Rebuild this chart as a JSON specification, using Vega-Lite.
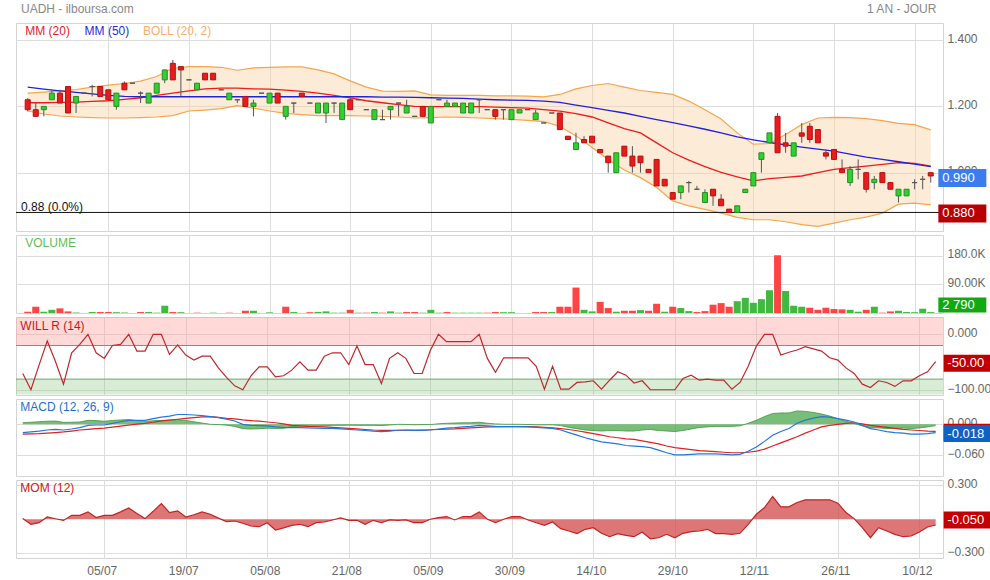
{
"$schema": "https://vega.github.io/schema/vega-lite/v6.json",
"padding": {"left": 15, "top": 2, "right": 0, "bottom": 0},
"background": "white",
"spacing": 4,
"bounds": "flush",
"config": {
 "font": "Liberation Sans",
 "view": {"stroke": "#d4d4d4"},
 "axis": {"gridColor": "#dddddd", "domain": false, "ticks": false, "labelColor": "#666666", "labelFontSize": 12, "labelFont": "Liberation Sans"},
 "axisY": {"labelOffset": -2},
 "axisX": {"labelOffset": -2.5}
},
"datasets": {
"d": [
{"i":0,"o":1.22,"h":1.225,"l":1.185,"c":1.19,"v":4000,"wr":-70,"mom":0.006,"m":-0.016,"s":-0.019,"hist":0.003},
{"i":1,"o":1.19,"h":1.21,"l":1.17,"c":1.17,"v":19700,"wr":-99,"mom":-0.044,"m":-0.0145,"s":-0.0185,"hist":0.004},
{"i":2,"o":1.19,"h":1.2,"l":1.17,"c":1.2,"v":4000,"wr":-55,"mom":-0.03,"m":-0.013,"s":-0.018,"hist":0.005},
{"i":3,"o":1.22,"h":1.25,"l":1.22,"c":1.24,"v":10000,"wr":-12,"mom":0.02,"m":-0.011,"s":-0.017,"hist":0.006},
{"i":4,"o":1.24,"h":1.25,"l":1.21,"c":1.21,"v":14500,"wr":-48,"mom":0.005,"m":-0.0097,"s":-0.016,"hist":0.0063},
{"i":5,"o":1.26,"h":1.26,"l":1.18,"c":1.18,"v":5000,"wr":-89,"mom":-0.01,"m":-0.011,"s":-0.0148,"hist":0.0038},
{"i":6,"o":1.21,"h":1.23,"l":1.18,"c":1.23,"v":1500,"wr":-33,"mom":0.035,"m":-0.009,"s":-0.013,"hist":0.004},
{"i":7,"o":1.24,"h":1.24,"l":1.24,"c":1.24,"v":0,"wr":-18,"mom":0.035,"m":-0.0065,"s":-0.011,"hist":0.0045},
{"i":8,"o":1.26,"h":1.265,"l":1.23,"c":1.26,"v":3000,"wr":0,"mom":0.065,"m":-0.002,"s":-0.0098,"hist":0.0078},
{"i":9,"o":1.26,"h":1.26,"l":1.23,"c":1.23,"v":3000,"wr":-33,"mom":0.015,"m":-0.0013,"s":-0.0085,"hist":0.0072},
{"i":10,"o":1.25,"h":1.25,"l":1.22,"c":1.22,"v":3000,"wr":-43,"mom":0.035,"m":-0.0013,"s":-0.0072,"hist":0.0059},
{"i":11,"o":1.2,"h":1.24,"l":1.19,"c":1.24,"v":2500,"wr":-20,"mom":0.035,"m":0.002,"s":-0.0055,"hist":0.0075},
{"i":12,"o":1.27,"h":1.275,"l":1.25,"c":1.25,"v":1500,"wr":-18,"mom":0.065,"m":0.005,"s":-0.0035,"hist":0.0085},
{"i":13,"o":1.27,"h":1.27,"l":1.27,"c":1.27,"v":0,"wr":0,"mom":0.1,"m":0.0077,"s":-0.0015,"hist":0.0092},
{"i":14,"o":1.24,"h":1.245,"l":1.21,"c":1.24,"v":3000,"wr":-30,"mom":0.05,"m":0.0077,"s":0.0005,"hist":0.0072},
{"i":15,"o":1.21,"h":1.24,"l":1.21,"c":1.24,"v":3000,"wr":-30,"mom":0.006,"m":0.0077,"s":0.002,"hist":0.0057},
{"i":16,"o":1.24,"h":1.27,"l":1.24,"c":1.27,"v":1000,"wr":0,"mom":0.07,"m":0.011,"s":0.004,"hist":0.007},
{"i":17,"o":1.28,"h":1.31,"l":1.27,"c":1.31,"v":22800,"wr":0,"mom":0.138,"m":0.014,"s":0.0065,"hist":0.0075},
{"i":18,"o":1.33,"h":1.34,"l":1.28,"c":1.28,"v":3000,"wr":-36,"mom":0.059,"m":0.016,"s":0.008,"hist":0.008},
{"i":19,"o":1.32,"h":1.32,"l":1.23,"c":1.31,"v":2500,"wr":-19,"mom":0.074,"m":0.019,"s":0.0098,"hist":0.0092},
{"i":20,"o":1.28,"h":1.28,"l":1.28,"c":1.28,"v":0,"wr":-37,"mom":0.02,"m":0.019,"s":0.0115,"hist":0.0075},
{"i":21,"o":1.25,"h":1.27,"l":1.25,"c":1.27,"v":1000,"wr":-46,"mom":0.04,"m":0.018,"s":0.013,"hist":0.005},
{"i":22,"o":1.3,"h":1.3,"l":1.28,"c":1.28,"v":0,"wr":-39,"mom":0.065,"m":0.017,"s":0.0145,"hist":0.0025},
{"i":23,"o":1.3,"h":1.3,"l":1.28,"c":1.28,"v":1000,"wr":-39,"mom":0.044,"m":0.015,"s":0.015,"hist":0},
{"i":24,"o":1.25,"h":1.25,"l":1.25,"c":1.25,"v":0,"wr":-60,"mom":0.01,"m":0.013,"s":0.0135,"hist":-0.0005},
{"i":25,"o":1.22,"h":1.24,"l":1.22,"c":1.24,"v":1000,"wr":-77,"mom":-0.02,"m":0.01,"s":0.0116,"hist":-0.0016},
{"i":26,"o":1.22,"h":1.22,"l":1.21,"c":1.22,"v":0,"wr":-92,"mom":-0.015,"m":0.0065,"s":0.0105,"hist":-0.004},
{"i":27,"o":1.23,"h":1.23,"l":1.2,"c":1.2,"v":7000,"wr":-99,"mom":-0.035,"m":0,"s":0.0085,"hist":-0.0085},
{"i":28,"o":1.2,"h":1.22,"l":1.17,"c":1.21,"v":7000,"wr":-74,"mom":-0.059,"m":-0.002,"s":0.0072,"hist":-0.0092},
{"i":29,"o":1.24,"h":1.24,"l":1.24,"c":1.24,"v":0,"wr":-58,"mom":-0.065,"m":-0.0025,"s":0.006,"hist":-0.0085},
{"i":30,"o":1.21,"h":1.24,"l":1.21,"c":1.24,"v":2000,"wr":-58,"mom":-0.03,"m":-0.003,"s":0.0045,"hist":-0.0075},
{"i":31,"o":1.24,"h":1.24,"l":1.21,"c":1.21,"v":0,"wr":-76,"mom":-0.094,"m":-0.005,"s":0.003,"hist":-0.008},
{"i":32,"o":1.17,"h":1.2,"l":1.16,"c":1.2,"v":19700,"wr":-74,"mom":-0.075,"m":-0.0065,"s":0.001,"hist":-0.0075},
{"i":33,"o":1.21,"h":1.21,"l":1.18,"c":1.21,"v":3000,"wr":-64,"mom":-0.053,"m":-0.0065,"s":-0.002,"hist":-0.0045},
{"i":34,"o":1.24,"h":1.24,"l":1.23,"c":1.23,"v":0,"wr":-49,"mom":-0.044,"m":-0.0065,"s":-0.003,"hist":-0.0035},
{"i":35,"o":1.21,"h":1.21,"l":1.21,"c":1.21,"v":2500,"wr":-64,"mom":-0.065,"m":-0.007,"s":-0.004,"hist":-0.003},
{"i":36,"o":1.18,"h":1.21,"l":1.18,"c":1.21,"v":3500,"wr":-64,"mom":-0.03,"m":-0.0075,"s":-0.0045,"hist":-0.003},
{"i":37,"o":1.18,"h":1.21,"l":1.15,"c":1.21,"v":5000,"wr":-39,"mom":-0.024,"m":-0.008,"s":-0.005,"hist":-0.003},
{"i":38,"o":1.21,"h":1.21,"l":1.18,"c":1.21,"v":1000,"wr":-33,"mom":-0.006,"m":-0.008,"s":-0.006,"hist":-0.002},
{"i":39,"o":1.16,"h":1.21,"l":1.16,"c":1.21,"v":1000,"wr":-33,"mom":0.012,"m":-0.009,"s":-0.007,"hist":-0.002},
{"i":40,"o":1.22,"h":1.225,"l":1.19,"c":1.19,"v":10000,"wr":-54,"mom":-0.009,"m":-0.0097,"s":-0.008,"hist":-0.0017},
{"i":41,"o":1.22,"h":1.22,"l":1.22,"c":1.22,"v":1000,"wr":-21,"mom":-0.009,"m":-0.011,"s":-0.009,"hist":-0.002},
{"i":42,"o":1.19,"h":1.19,"l":1.19,"c":1.19,"v":1000,"wr":-54,"mom":-0.044,"m":-0.012,"s":-0.01,"hist":-0.002},
{"i":43,"o":1.16,"h":1.19,"l":1.16,"c":1.19,"v":3000,"wr":-54,"mom":-0.009,"m":-0.013,"s":-0.011,"hist":-0.002},
{"i":44,"o":1.16,"h":1.19,"l":1.16,"c":1.16,"v":1000,"wr":-88,"mom":-0.03,"m":-0.014,"s":-0.0116,"hist":-0.0024},
{"i":45,"o":1.19,"h":1.2,"l":1.16,"c":1.2,"v":5000,"wr":-43,"mom":-0.006,"m":-0.013,"s":-0.0116,"hist":-0.0014},
{"i":46,"o":1.21,"h":1.21,"l":1.17,"c":1.21,"v":1000,"wr":-33,"mom":-0.009,"m":-0.0115,"s":-0.0115,"hist":0},
{"i":47,"o":1.18,"h":1.22,"l":1.18,"c":1.2,"v":3000,"wr":-43,"mom":-0.006,"m":-0.0115,"s":-0.0113,"hist":-0.0002},
{"i":48,"o":1.17,"h":1.17,"l":1.17,"c":1.17,"v":3000,"wr":-70,"mom":-0.03,"m":-0.012,"s":-0.0112,"hist":-0.0008},
{"i":49,"o":1.2,"h":1.2,"l":1.17,"c":1.17,"v":1000,"wr":-70,"mom":-0.03,"m":-0.0116,"s":-0.011,"hist":-0.0006},
{"i":50,"o":1.15,"h":1.2,"l":1.15,"c":1.2,"v":10000,"wr":-29,"mom":0,"m":-0.011,"s":-0.0105,"hist":-0.0005},
{"i":51,"o":1.22,"h":1.22,"l":1.22,"c":1.22,"v":1000,"wr":0,"mom":0.015,"m":-0.009,"s":-0.01,"hist":0.001},
{"i":52,"o":1.2,"h":1.22,"l":1.2,"c":1.21,"v":3000,"wr":-13,"mom":0.024,"m":-0.0075,"s":-0.0095,"hist":0.002},
{"i":53,"o":1.2,"h":1.21,"l":1.2,"c":1.21,"v":1000,"wr":-13,"mom":-0.006,"m":-0.0065,"s":-0.009,"hist":0.0025},
{"i":54,"o":1.18,"h":1.21,"l":1.18,"c":1.21,"v":1000,"wr":-13,"mom":0.024,"m":-0.005,"s":-0.008,"hist":0.003},
{"i":55,"o":1.18,"h":1.21,"l":1.18,"c":1.21,"v":1000,"wr":-13,"mom":0.024,"m":-0.004,"s":-0.007,"hist":0.003},
{"i":56,"o":1.22,"h":1.22,"l":1.18,"c":1.22,"v":1000,"wr":0,"mom":0.065,"m":-0.002,"s":-0.006,"hist":0.004},
{"i":57,"o":1.19,"h":1.19,"l":1.19,"c":1.19,"v":1000,"wr":-43,"mom":0,"m":-0.003,"s":-0.005,"hist":0.002},
{"i":58,"o":1.19,"h":1.19,"l":1.16,"c":1.17,"v":3000,"wr":-68,"mom":-0.03,"m":-0.004,"s":-0.0048,"hist":0.0008},
{"i":59,"o":1.19,"h":1.19,"l":1.16,"c":1.19,"v":2500,"wr":-42,"mom":0,"m":-0.0045,"s":-0.0046,"hist":0.0001},
{"i":60,"o":1.16,"h":1.19,"l":1.16,"c":1.19,"v":2500,"wr":-42,"mom":0.024,"m":-0.0045,"s":-0.0045,"hist":0},
{"i":61,"o":1.18,"h":1.19,"l":1.18,"c":1.19,"v":0,"wr":-42,"mom":0.024,"m":-0.0045,"s":-0.0045,"hist":0},
{"i":62,"o":1.19,"h":1.19,"l":1.19,"c":1.19,"v":0,"wr":-42,"mom":-0.006,"m":-0.005,"s":-0.0046,"hist":-0.0004},
{"i":63,"o":1.16,"h":1.19,"l":1.16,"c":1.18,"v":3000,"wr":-57,"mom":-0.03,"m":-0.006,"s":-0.005,"hist":-0.001},
{"i":64,"o":1.15,"h":1.15,"l":1.15,"c":1.15,"v":3000,"wr":-98,"mom":-0.053,"m":-0.007,"s":-0.006,"hist":-0.001},
{"i":65,"o":1.18,"h":1.18,"l":1.18,"c":1.18,"v":3000,"wr":-57,"mom":-0.024,"m":-0.008,"s":-0.007,"hist":-0.001},
{"i":66,"o":1.18,"h":1.18,"l":1.13,"c":1.13,"v":19700,"wr":-98,"mom":-0.082,"m":-0.011,"s":-0.0085,"hist":-0.0025},
{"i":67,"o":1.11,"h":1.11,"l":1.1,"c":1.1,"v":19700,"wr":-98,"mom":-0.103,"m":-0.016,"s":-0.01,"hist":-0.006},
{"i":68,"o":1.07,"h":1.12,"l":1.07,"c":1.09,"v":79700,"wr":-86,"mom":-0.126,"m":-0.021,"s":-0.0125,"hist":-0.0085},
{"i":69,"o":1.1,"h":1.11,"l":1.09,"c":1.09,"v":10000,"wr":-85,"mom":-0.088,"m":-0.026,"s":-0.015,"hist":-0.011},
{"i":70,"o":1.11,"h":1.11,"l":1.09,"c":1.09,"v":5000,"wr":-83,"mom":-0.074,"m":-0.03,"s":-0.018,"hist":-0.012},
{"i":71,"o":1.07,"h":1.07,"l":1.06,"c":1.06,"v":35000,"wr":-98,"mom":-0.123,"m":-0.034,"s":-0.021,"hist":-0.013},
{"i":72,"o":1.05,"h":1.05,"l":1,"c":1.03,"v":15500,"wr":-82,"mom":-0.153,"m":-0.036,"s":-0.024,"hist":-0.012},
{"i":73,"o":1,"h":1.06,"l":1,"c":1.06,"v":4000,"wr":-67,"mom":-0.126,"m":-0.038,"s":-0.026,"hist":-0.012},
{"i":74,"o":1.08,"h":1.08,"l":1.05,"c":1.05,"v":7000,"wr":-73,"mom":-0.141,"m":-0.041,"s":-0.028,"hist":-0.013},
{"i":75,"o":1.05,"h":1.08,"l":1,"c":1.02,"v":7000,"wr":-87,"mom":-0.153,"m":-0.042,"s":-0.029,"hist":-0.013},
{"i":76,"o":1.05,"h":1.05,"l":1,"c":1.03,"v":9000,"wr":-83,"mom":-0.112,"m":-0.043,"s":-0.032,"hist":-0.011},
{"i":77,"o":1.01,"h":1.01,"l":1,"c":1,"v":7000,"wr":-99,"mom":-0.171,"m":-0.045,"s":-0.035,"hist":-0.01},
{"i":78,"o":1.04,"h":1.04,"l":0.96,"c":0.96,"v":29000,"wr":-99,"mom":-0.162,"m":-0.05,"s":-0.038,"hist":-0.012},
{"i":79,"o":0.98,"h":0.98,"l":0.96,"c":0.96,"v":4000,"wr":-99,"mom":-0.132,"m":-0.055,"s":-0.042,"hist":-0.013},
{"i":80,"o":0.94,"h":0.94,"l":0.92,"c":0.92,"v":19700,"wr":-99,"mom":-0.162,"m":-0.059,"s":-0.045,"hist":-0.014},
{"i":81,"o":0.94,"h":0.96,"l":0.92,"c":0.96,"v":15500,"wr":-79,"mom":-0.123,"m":-0.059,"s":-0.047,"hist":-0.012},
{"i":82,"o":0.97,"h":0.975,"l":0.94,"c":0.97,"v":6000,"wr":-73,"mom":-0.109,"m":-0.058,"s":-0.049,"hist":-0.009},
{"i":83,"o":0.95,"h":0.96,"l":0.95,"c":0.95,"v":3000,"wr":-82,"mom":-0.103,"m":-0.057,"s":-0.051,"hist":-0.006},
{"i":84,"o":0.91,"h":0.95,"l":0.91,"c":0.94,"v":6000,"wr":-80,"mom":-0.088,"m":-0.057,"s":-0.052,"hist":-0.005},
{"i":85,"o":0.95,"h":0.95,"l":0.9,"c":0.93,"v":26000,"wr":-82,"mom":-0.126,"m":-0.057,"s":-0.053,"hist":-0.004},
{"i":86,"o":0.92,"h":0.935,"l":0.9,"c":0.9,"v":31000,"wr":-82,"mom":-0.126,"m":-0.058,"s":-0.054,"hist":-0.004},
{"i":87,"o":0.89,"h":0.89,"l":0.88,"c":0.88,"v":19700,"wr":-98,"mom":-0.132,"m":-0.059,"s":-0.055,"hist":-0.004},
{"i":88,"o":0.88,"h":0.9,"l":0.88,"c":0.9,"v":37000,"wr":-86,"mom":-0.123,"m":-0.058,"s":-0.055,"hist":-0.003},
{"i":89,"o":0.94,"h":0.95,"l":0.94,"c":0.95,"v":47600,"wr":-57,"mom":-0.044,"m":-0.052,"s":-0.054,"hist":0.002},
{"i":90,"o":0.96,"h":1,"l":0.96,"c":1,"v":32000,"wr":-21,"mom":0.044,"m":-0.044,"s":-0.052,"hist":0.008},
{"i":91,"o":1.04,"h":1.06,"l":1,"c":1.06,"v":43400,"wr":0,"mom":0.103,"m":-0.033,"s":-0.048,"hist":0.015},
{"i":92,"o":1.09,"h":1.12,"l":1.09,"c":1.12,"v":71400,"wr":0,"mom":0.2,"m":-0.021,"s":-0.042,"hist":0.021},
{"i":93,"o":1.17,"h":1.18,"l":1.06,"c":1.06,"v":181000,"wr":-37,"mom":0.109,"m":-0.014,"s":-0.036,"hist":0.022},
{"i":94,"o":1.09,"h":1.12,"l":1.06,"c":1.08,"v":69000,"wr":-32,"mom":0.109,"m":-0.008,"s":-0.03,"hist":0.022},
{"i":95,"o":1.05,"h":1.09,"l":1.05,"c":1.09,"v":22800,"wr":-28,"mom":0.147,"m":0.002,"s":-0.024,"hist":0.026},
{"i":96,"o":1.12,"h":1.15,"l":1.09,"c":1.11,"v":19700,"wr":-22,"mom":0.171,"m":0.008,"s":-0.017,"hist":0.025},
{"i":97,"o":1.14,"h":1.15,"l":1.09,"c":1.1,"v":16500,"wr":-26,"mom":0.171,"m":0.012,"s":-0.011,"hist":0.023},
{"i":98,"o":1.13,"h":1.13,"l":1.09,"c":1.09,"v":10000,"wr":-30,"mom":0.171,"m":0.015,"s":-0.005,"hist":0.02},
{"i":99,"o":1.06,"h":1.07,"l":1.04,"c":1.05,"v":16500,"wr":-42,"mom":0.171,"m":0.014,"s":-0.002,"hist":0.016},
{"i":100,"o":1.07,"h":1.07,"l":1.04,"c":1.04,"v":12400,"wr":-46,"mom":0.141,"m":0.011,"s":0,"hist":0.011},
{"i":101,"o":1.01,"h":1.04,"l":1,"c":1,"v":11400,"wr":-60,"mom":0.059,"m":0.008,"s":0.002,"hist":0.006},
{"i":102,"o":0.97,"h":1.02,"l":0.96,"c":1.01,"v":10000,"wr":-70,"mom":0.006,"m":0.0045,"s":0.003,"hist":0.0015},
{"i":103,"o":1.01,"h":1.04,"l":0.98,"c":1.01,"v":4000,"wr":-89,"mom":-0.074,"m":-0.002,"s":0.001,"hist":-0.003},
{"i":104,"o":1,"h":1,"l":0.94,"c":0.95,"v":10000,"wr":-95,"mom":-0.162,"m":-0.0084,"s":-0.002,"hist":-0.0064},
{"i":105,"o":0.97,"h":0.99,"l":0.95,"c":0.98,"v":19700,"wr":-83,"mom":-0.074,"m":-0.011,"s":-0.004,"hist":-0.007},
{"i":106,"o":1,"h":1,"l":0.97,"c":0.97,"v":1000,"wr":-86,"mom":-0.103,"m":-0.014,"s":-0.006,"hist":-0.008},
{"i":107,"o":0.97,"h":0.97,"l":0.95,"c":0.95,"v":5000,"wr":-93,"mom":-0.132,"m":-0.016,"s":-0.008,"hist":-0.008},
{"i":108,"o":0.93,"h":0.95,"l":0.91,"c":0.95,"v":7000,"wr":-83,"mom":-0.153,"m":-0.017,"s":-0.0097,"hist":-0.0073},
{"i":109,"o":0.93,"h":0.95,"l":0.93,"c":0.95,"v":3000,"wr":-83,"mom":-0.147,"m":-0.019,"s":-0.011,"hist":-0.008},
{"i":110,"o":0.97,"h":0.98,"l":0.95,"c":0.97,"v":2500,"wr":-74,"mom":-0.112,"m":-0.019,"s":-0.012,"hist":-0.007},
{"i":111,"o":0.98,"h":0.99,"l":0.95,"c":0.98,"v":13500,"wr":-67,"mom":-0.068,"m":-0.018,"s":-0.013,"hist":-0.005},
{"i":112,"o":1,"h":1,"l":0.97,"c":0.99,"v":2790,"wr":-49,"mom":-0.05,"m":-0.016,"s":-0.0135,"hist":-0.0025}
],
"ma": [
{"i":0,"ma50":1.258,"ma20":1.211,"bu":1.24,"bl":1.186},
{"i":2,"ma50":1.252,"ma20":1.211,"bu":1.243,"bl":1.177},
{"i":4,"ma50":1.247,"ma20":1.212,"bu":1.247,"bl":1.171},
{"i":6,"ma50":1.242,"ma20":1.213,"bu":1.251,"bl":1.168},
{"i":8,"ma50":1.238,"ma20":1.215,"bu":1.258,"bl":1.166},
{"i":10,"ma50":1.233,"ma20":1.217,"bu":1.264,"bl":1.165},
{"i":12,"ma50":1.23,"ma20":1.221,"bu":1.269,"bl":1.165},
{"i":14,"ma50":1.229,"ma20":1.226,"bu":1.276,"bl":1.166},
{"i":16,"ma50":1.229,"ma20":1.233,"bu":1.29,"bl":1.168},
{"i":18,"ma50":1.229,"ma20":1.24,"bu":1.315,"bl":1.172},
{"i":20,"ma50":1.229,"ma20":1.247,"bu":1.32,"bl":1.186},
{"i":22,"ma50":1.229,"ma20":1.253,"bu":1.32,"bl":1.189},
{"i":24,"ma50":1.229,"ma20":1.255,"bu":1.318,"bl":1.193},
{"i":26,"ma50":1.229,"ma20":1.255,"bu":1.309,"bl":1.202},
{"i":28,"ma50":1.229,"ma20":1.253,"bu":1.316,"bl":1.195},
{"i":30,"ma50":1.229,"ma20":1.252,"bu":1.318,"bl":1.186},
{"i":32,"ma50":1.229,"ma20":1.249,"bu":1.319,"bl":1.179},
{"i":34,"ma50":1.229,"ma20":1.245,"bu":1.319,"bl":1.175},
{"i":36,"ma50":1.229,"ma20":1.24,"bu":1.31,"bl":1.172},
{"i":38,"ma50":1.229,"ma20":1.233,"bu":1.298,"bl":1.172},
{"i":40,"ma50":1.229,"ma20":1.226,"bu":1.277,"bl":1.172},
{"i":42,"ma50":1.229,"ma20":1.217,"bu":1.258,"bl":1.171},
{"i":44,"ma50":1.228,"ma20":1.211,"bu":1.246,"bl":1.17},
{"i":46,"ma50":1.228,"ma20":1.205,"bu":1.245,"bl":1.168},
{"i":48,"ma50":1.227,"ma20":1.2,"bu":1.247,"bl":1.165},
{"i":50,"ma50":1.226,"ma20":1.199,"bu":1.235,"bl":1.166},
{"i":52,"ma50":1.225,"ma20":1.199,"bu":1.233,"bl":1.168},
{"i":54,"ma50":1.224,"ma20":1.199,"bu":1.233,"bl":1.167},
{"i":56,"ma50":1.222,"ma20":1.199,"bu":1.233,"bl":1.165},
{"i":58,"ma50":1.22,"ma20":1.198,"bu":1.232,"bl":1.163},
{"i":60,"ma50":1.219,"ma20":1.196,"bu":1.232,"bl":1.161},
{"i":62,"ma50":1.218,"ma20":1.195,"bu":1.231,"bl":1.158},
{"i":64,"ma50":1.216,"ma20":1.19,"bu":1.229,"bl":1.154},
{"i":66,"ma50":1.212,"ma20":1.186,"bu":1.236,"bl":1.14},
{"i":68,"ma50":1.204,"ma20":1.178,"bu":1.253,"bl":1.111},
{"i":70,"ma50":1.196,"ma20":1.168,"bu":1.263,"bl":1.076},
{"i":72,"ma50":1.188,"ma20":1.15,"bu":1.269,"bl":1.04},
{"i":74,"ma50":1.18,"ma20":1.133,"bu":1.258,"bl":1.008},
{"i":76,"ma50":1.17,"ma20":1.12,"bu":1.248,"bl":0.985},
{"i":78,"ma50":1.16,"ma20":1.09,"bu":1.242,"bl":0.955},
{"i":80,"ma50":1.151,"ma20":1.06,"bu":1.236,"bl":0.915},
{"i":82,"ma50":1.141,"ma20":1.038,"bu":1.216,"bl":0.9},
{"i":84,"ma50":1.131,"ma20":1.018,"bu":1.19,"bl":0.889},
{"i":86,"ma50":1.12,"ma20":1.001,"bu":1.162,"bl":0.878},
{"i":88,"ma50":1.108,"ma20":0.987,"bu":1.12,"bl":0.865},
{"i":90,"ma50":1.099,"ma20":0.975,"bu":1.086,"bl":0.858},
{"i":92,"ma50":1.091,"ma20":0.982,"bu":1.088,"bl":0.858},
{"i":94,"ma50":1.084,"ma20":0.986,"bu":1.115,"bl":0.852},
{"i":96,"ma50":1.077,"ma20":0.99,"bu":1.145,"bl":0.843},
{"i":98,"ma50":1.071,"ma20":1,"bu":1.165,"bl":0.838},
{"i":100,"ma50":1.065,"ma20":1.01,"bu":1.167,"bl":0.848},
{"i":102,"ma50":1.056,"ma20":1.015,"bu":1.166,"bl":0.858},
{"i":104,"ma50":1.047,"ma20":1.02,"bu":1.163,"bl":0.866},
{"i":106,"ma50":1.04,"ma20":1.025,"bu":1.157,"bl":0.878},
{"i":108,"ma50":1.033,"ma20":1.03,"bu":1.149,"bl":0.905},
{"i":110,"ma50":1.026,"ma20":1.028,"bu":1.145,"bl":0.908},
{"i":112,"ma50":1.018,"ma20":1.02,"bu":1.129,"bl":0.903}
]
},
"vconcat": [
{
"width": 927, "height": 208,
"layer": [
{"data": {"name": "ma"}, "mark": {"type": "area", "color": "#f9d3a5", "opacity": 0.45},
 "encoding": {
  "x": {"field": "i", "type": "quantitative", "scale": {"domain": [-0.83, 112.9], "nice": false, "zero": false}, "axis": {"values": [10,20,30,40,50,60,70,80,90,100,110], "labels": false, "grid": true, "title": null}},
  "y": {"field": "bu", "type": "quantitative", "scale": {"domain": [0.824, 1.4516], "nice": false, "zero": false}, "axis": {"orient": "right", "values": [1, 1.2, 1.4], "format": ".3f", "grid": true, "title": null, "labelPadding": 4}},
  "y2": {"field": "bl"}}},
{"data": {"name": "ma"}, "mark": {"type": "line", "color": "#f6a54c", "strokeWidth": 1.2},
 "encoding": {"x": {"field": "i", "type": "quantitative", "scale": {"domain": [-0.83, 112.9], "nice": false, "zero": false}}, "y": {"field": "bu", "type": "quantitative", "scale": {"domain": [0.824, 1.4516], "nice": false, "zero": false}}}},
{"data": {"name": "ma"}, "mark": {"type": "line", "color": "#f6a54c", "strokeWidth": 1.2},
 "encoding": {"x": {"field": "i", "type": "quantitative", "scale": {"domain": [-0.83, 112.9], "nice": false, "zero": false}}, "y": {"field": "bl", "type": "quantitative", "scale": {"domain": [0.824, 1.4516], "nice": false, "zero": false}}}},
{"data": {"name": "ma"}, "mark": {"type": "line", "color": "#ee1b1b", "strokeWidth": 1.3},
 "encoding": {"x": {"field": "i", "type": "quantitative", "scale": {"domain": [-0.83, 112.9], "nice": false, "zero": false}}, "y": {"field": "ma20", "type": "quantitative", "scale": {"domain": [0.824, 1.4516], "nice": false, "zero": false}}}},
{"data": {"name": "ma"}, "mark": {"type": "line", "color": "#2020dd", "strokeWidth": 1.3},
 "encoding": {"x": {"field": "i", "type": "quantitative", "scale": {"domain": [-0.83, 112.9], "nice": false, "zero": false}}, "y": {"field": "ma50", "type": "quantitative", "scale": {"domain": [0.824, 1.4516], "nice": false, "zero": false}}}},
{"data": {"values": [{"ref": 0.88}]}, "mark": {"type": "rule", "color": "#111111", "strokeWidth": 1},
 "encoding": {"y": {"field": "ref", "type": "quantitative", "scale": {"domain": [0.824, 1.4516], "nice": false, "zero": false}}}},
{"data": {"name": "d"}, "mark": {"type": "rule", "color": "#555555", "strokeWidth": 1},
 "encoding": {"x": {"field": "i", "type": "quantitative", "scale": {"domain": [-0.83, 112.9], "nice": false, "zero": false}}, "y": {"field": "l", "type": "quantitative", "scale": {"domain": [0.824, 1.4516], "nice": false, "zero": false}}, "y2": {"field": "h"}}},
{"data": {"name": "d"}, "mark": {"type": "bar", "size": 5, "strokeWidth": 1, "orient": "vertical"},
 "encoding": {"x": {"field": "i", "type": "quantitative", "scale": {"domain": [-0.83, 112.9], "nice": false, "zero": false}}, "y": {"field": "o", "type": "quantitative", "scale": {"domain": [0.824, 1.4516], "nice": false, "zero": false}}, "y2": {"field": "c"},
  "fill": {"condition": {"test": "datum.c > datum.o", "value": "#2ed12e"}, "value": "#e81c1c"},
  "stroke": {"condition": [{"test": "datum.c > datum.o", "value": "#2a8a2a"}, {"test": "datum.c < datum.o", "value": "#b51010"}], "value": "#555555"}}},
{"data": {"values": [{"t": "UADH - ilboursa.com"}]}, "mark": {"type": "text", "align": "left", "baseline": "middle", "fontSize": 12, "color": "#888888"},
 "encoding": {"x": {"datum": -0.83, "type": "quantitative", "scale": {"domain": [-0.83, 112.9], "nice": false, "zero": false}}, "y": {"datum": 1.4938, "type": "quantitative", "scale": {"domain": [0.824, 1.4516], "nice": false, "zero": false}}, "text": {"field": "t"}}},
{"data": {"values": [{"t": "1 AN - JOUR"}]}, "mark": {"type": "text", "align": "right", "baseline": "middle", "fontSize": 12, "color": "#888888"},
 "encoding": {"x": {"datum": 112.7, "type": "quantitative", "scale": {"domain": [-0.83, 112.9], "nice": false, "zero": false}}, "y": {"datum": 1.4938, "type": "quantitative", "scale": {"domain": [0.824, 1.4516], "nice": false, "zero": false}}, "text": {"field": "t"}}},
{"data": {"values": [{"t": "MM (20)"}]}, "mark": {"type": "text", "align": "left", "baseline": "middle", "fontSize": 12, "color": "#e8242b"},
 "encoding": {"x": {"datum": -0.3, "type": "quantitative", "scale": {"domain": [-0.83, 112.9], "nice": false, "zero": false}}, "y": {"datum": 1.4275, "type": "quantitative", "scale": {"domain": [0.824, 1.4516], "nice": false, "zero": false}}, "text": {"field": "t"}}},
{"data": {"values": [{"t": "MM (50)"}]}, "mark": {"type": "text", "align": "left", "baseline": "middle", "fontSize": 12, "color": "#2b2bd8"},
 "encoding": {"x": {"datum": 7.06, "type": "quantitative", "scale": {"domain": [-0.83, 112.9], "nice": false, "zero": false}}, "y": {"datum": 1.4275, "type": "quantitative", "scale": {"domain": [0.824, 1.4516], "nice": false, "zero": false}}, "text": {"field": "t"}}},
{"data": {"values": [{"t": "BOLL (20, 2)"}]}, "mark": {"type": "text", "align": "left", "baseline": "middle", "fontSize": 12, "color": "#f5b06b"},
 "encoding": {"x": {"datum": 14.3, "type": "quantitative", "scale": {"domain": [-0.83, 112.9], "nice": false, "zero": false}}, "y": {"datum": 1.4275, "type": "quantitative", "scale": {"domain": [0.824, 1.4516], "nice": false, "zero": false}}, "text": {"field": "t"}}},
{"data": {"values": [{"t": "0.88  (0.0%)"}]}, "mark": {"type": "text", "align": "left", "baseline": "middle", "fontSize": 12, "color": "#111111"},
 "encoding": {"x": {"datum": -0.83, "type": "quantitative", "scale": {"domain": [-0.83, 112.9], "nice": false, "zero": false}}, "y": {"datum": 0.8964, "type": "quantitative", "scale": {"domain": [0.824, 1.4516], "nice": false, "zero": false}}, "text": {"field": "t"}}},
{"data": {"values": [{"t": "0.990", "v": 0.99}]}, "mark": {"type": "tick", "orient": "horizontal", "thickness": 18, "size": 48, "color": "#3b7ded", "opacity": 1, "yOffset": 2},
 "encoding": {"x": {"datum": 115.92, "type": "quantitative", "scale": {"domain": [-0.83, 112.9], "nice": false, "zero": false}}, "y": {"field": "v", "type": "quantitative", "scale": {"domain": [0.824, 1.4516], "nice": false, "zero": false}}}},
{"data": {"values": [{"t": "0.990", "v": 0.99}]}, "mark": {"type": "text", "align": "left", "baseline": "middle", "fontSize": 13, "color": "white", "yOffset": 2},
 "encoding": {"x": {"datum": 113.43, "type": "quantitative", "scale": {"domain": [-0.83, 112.9], "nice": false, "zero": false}}, "y": {"field": "v", "type": "quantitative", "scale": {"domain": [0.824, 1.4516], "nice": false, "zero": false}}, "text": {"field": "t"}}},
{"data": {"values": [{"t": "0.880", "v": 0.88}]}, "mark": {"type": "tick", "orient": "horizontal", "thickness": 18, "size": 48, "color": "#b80000", "opacity": 1, "yOffset": 1},
 "encoding": {"x": {"datum": 115.92, "type": "quantitative", "scale": {"domain": [-0.83, 112.9], "nice": false, "zero": false}}, "y": {"field": "v", "type": "quantitative", "scale": {"domain": [0.824, 1.4516], "nice": false, "zero": false}}}},
{"data": {"values": [{"t": "0.880", "v": 0.88}]}, "mark": {"type": "text", "align": "left", "baseline": "middle", "fontSize": 13, "color": "white", "yOffset": 1},
 "encoding": {"x": {"datum": 113.43, "type": "quantitative", "scale": {"domain": [-0.83, 112.9], "nice": false, "zero": false}}, "y": {"field": "v", "type": "quantitative", "scale": {"domain": [0.824, 1.4516], "nice": false, "zero": false}}, "text": {"field": "t"}}}
]
},
{
"width": 927, "height": 78,
"layer": [
{"data": {"name": "d"}, "transform": [{"window": [{"op": "lag", "field": "c", "as": "pc"}], "sort": [{"field": "i", "order": "ascending"}]}],
 "mark": {"type": "bar", "size": 7, "orient": "vertical"},
 "encoding": {
  "x": {"field": "i", "type": "quantitative", "scale": {"domain": [-0.83, 112.9], "nice": false, "zero": false}, "axis": {"values": [10,20,30,40,50,60,70,80,90,100,110], "labels": false, "grid": true, "title": null}},
  "y": {"field": "v", "type": "quantitative", "scale": {"domain": [0, 244600], "nice": false}, "axis": {"orient": "right", "values": [90000, 180000], "labelExpr": "format(datum.value/1000, '.4r') + 'K'", "grid": true, "title": null, "labelPadding": 4}},
  "color": {"condition": {"test": "datum.pc != null && datum.c >= datum.pc", "value": "#3fb93f"}, "value": "#ff4444"}}},
{"data": {"values": [{"t": "VOLUME"}]}, "mark": {"type": "text", "align": "left", "baseline": "middle", "fontSize": 12, "color": "#5cbf5c"},
 "encoding": {"x": {"datum": -0.3, "type": "quantitative", "scale": {"domain": [-0.83, 112.9], "nice": false, "zero": false}}, "y": {"datum": 219500, "type": "quantitative", "scale": {"domain": [0, 244600], "nice": false}}, "text": {"field": "t"}}},
{"data": {"values": [{"t": "2 790", "v": 2790}]}, "mark": {"type": "tick", "orient": "horizontal", "thickness": 15, "size": 48, "color": "#12a812", "opacity": 1, "yOffset": -7},
 "encoding": {"x": {"datum": 115.92, "type": "quantitative", "scale": {"domain": [-0.83, 112.9], "nice": false, "zero": false}}, "y": {"field": "v", "type": "quantitative", "scale": {"domain": [0, 244600], "nice": false}}}},
{"data": {"values": [{"t": "2 790", "v": 2790}]}, "mark": {"type": "text", "align": "left", "baseline": "middle", "fontSize": 13, "color": "white", "yOffset": -7},
 "encoding": {"x": {"datum": 113.43, "type": "quantitative", "scale": {"domain": [-0.83, 112.9], "nice": false, "zero": false}}, "y": {"field": "v", "type": "quantitative", "scale": {"domain": [0, 244600], "nice": false}}, "text": {"field": "t"}}}
]
},
{
"width": 927, "height": 78,
"layer": [
{"data": {"values": [{"a": 30.9, "b": -20}]}, "mark": {"type": "rect", "color": "#ff9999", "opacity": 0.38},
 "encoding": {
  "x": {"datum": -0.83, "type": "quantitative", "scale": {"domain": [-0.83, 112.9], "nice": false, "zero": false}, "axis": {"values": [10,20,30,40,50,60,70,80,90,100,110], "labels": false, "grid": true, "title": null}},
  "x2": {"datum": 112.9},
  "y": {"field": "a", "type": "quantitative", "scale": {"domain": [-108.4, 30.9], "nice": false, "zero": false}, "axis": {"orient": "right", "values": [0, -50, -100], "labelExpr": "datum.value == 0 ? '0.000' : format(datum.value, '.2f')", "grid": true, "title": null, "labelPadding": 4}},
  "y2": {"field": "b"}}},
{"data": {"values": [{"a": -80, "b": -107.5}]}, "mark": {"type": "rect", "color": "#7ebf77", "opacity": 0.3},
 "encoding": {"x": {"datum": -0.83, "type": "quantitative", "scale": {"domain": [-0.83, 112.9], "nice": false, "zero": false}}, "x2": {"datum": 112.9},
  "y": {"field": "a", "type": "quantitative", "scale": {"domain": [-108.4, 30.9], "nice": false, "zero": false}}, "y2": {"field": "b"}}},
{"data": {"values": [{"a": -20}]}, "mark": {"type": "rule", "color": "#e06666", "strokeWidth": 1},
 "encoding": {"y": {"field": "a", "type": "quantitative", "scale": {"domain": [-108.4, 30.9], "nice": false, "zero": false}}}},
{"data": {"values": [{"a": -80}]}, "mark": {"type": "rule", "color": "#6aaa6a", "strokeWidth": 1},
 "encoding": {"y": {"field": "a", "type": "quantitative", "scale": {"domain": [-108.4, 30.9], "nice": false, "zero": false}}}},
{"data": {"name": "d"}, "mark": {"type": "line", "color": "#c0272d", "strokeWidth": 1.2},
 "encoding": {"x": {"field": "i", "type": "quantitative", "scale": {"domain": [-0.83, 112.9], "nice": false, "zero": false}}, "y": {"field": "wr", "type": "quantitative", "scale": {"domain": [-108.4, 30.9], "nice": false, "zero": false}}}},
{"data": {"values": [{"t": "WILL R (14)"}]}, "mark": {"type": "text", "align": "left", "baseline": "middle", "fontSize": 12, "color": "#b81f1f"},
 "encoding": {"x": {"datum": -0.3, "type": "quantitative", "scale": {"domain": [-0.83, 112.9], "nice": false, "zero": false}}, "y": {"datum": 14.8, "type": "quantitative", "scale": {"domain": [-108.4, 30.9], "nice": false, "zero": false}}, "text": {"field": "t"}}},
{"data": {"values": [{"t": "-50.00", "v": -50}]}, "mark": {"type": "tick", "orient": "horizontal", "thickness": 17, "size": 48, "color": "#c00000", "opacity": 1, "yOffset": 1},
 "encoding": {"x": {"datum": 115.92, "type": "quantitative", "scale": {"domain": [-0.83, 112.9], "nice": false, "zero": false}}, "y": {"field": "v", "type": "quantitative", "scale": {"domain": [-108.4, 30.9], "nice": false, "zero": false}}}},
{"data": {"values": [{"t": "-50.00", "v": -50}]}, "mark": {"type": "text", "align": "left", "baseline": "middle", "fontSize": 13, "color": "white", "yOffset": 1},
 "encoding": {"x": {"datum": 113.43, "type": "quantitative", "scale": {"domain": [-0.83, 112.9], "nice": false, "zero": false}}, "y": {"field": "v", "type": "quantitative", "scale": {"domain": [-108.4, 30.9], "nice": false, "zero": false}}, "text": {"field": "t"}}}
]
},
{
"width": 927, "height": 77,
"layer": [
{"data": {"name": "d"}, "mark": {"type": "area", "color": "#3fa33f", "opacity": 0.7, "line": {"color": "#3c963c", "strokeWidth": 0.8}},
 "encoding": {
  "x": {"field": "i", "type": "quantitative", "scale": {"domain": [-0.83, 112.9], "nice": false, "zero": false}, "axis": {"values": [10,20,30,40,50,60,70,80,90,100,110], "labels": false, "grid": true, "title": null}},
  "y": {"field": "hist", "type": "quantitative", "scale": {"domain": [-0.1, 0.049], "nice": false, "zero": false}, "axis": {"orient": "right", "values": [0, -0.06], "format": ".3f", "grid": true, "title": null, "labelPadding": 4}},
  "y2": {"datum": 0}}},
{"data": {"name": "d"}, "mark": {"type": "line", "color": "#dd2222", "strokeWidth": 1.2},
 "encoding": {"x": {"field": "i", "type": "quantitative", "scale": {"domain": [-0.83, 112.9], "nice": false, "zero": false}}, "y": {"field": "s", "type": "quantitative", "scale": {"domain": [-0.1, 0.049], "nice": false, "zero": false}}}},
{"data": {"name": "d"}, "mark": {"type": "line", "color": "#2277dd", "strokeWidth": 1.2},
 "encoding": {"x": {"field": "i", "type": "quantitative", "scale": {"domain": [-0.83, 112.9], "nice": false, "zero": false}}, "y": {"field": "m", "type": "quantitative", "scale": {"domain": [-0.1, 0.049], "nice": false, "zero": false}}}},
{"data": {"values": [{"t": "MACD (12, 26, 9)"}]}, "mark": {"type": "text", "align": "left", "baseline": "middle", "fontSize": 12, "color": "#1f6fd0"},
 "encoding": {"x": {"datum": -0.3, "type": "quantitative", "scale": {"domain": [-0.83, 112.9], "nice": false, "zero": false}}, "y": {"datum": 0.0335, "type": "quantitative", "scale": {"domain": [-0.1, 0.049], "nice": false, "zero": false}}, "text": {"field": "t"}}},
{"data": {"values": [{"v": -0.0135}]}, "mark": {"type": "tick", "orient": "horizontal", "thickness": 17, "size": 48, "color": "#cc0000", "opacity": 1, "yOffset": 1},
 "encoding": {"x": {"datum": 115.92, "type": "quantitative", "scale": {"domain": [-0.83, 112.9], "nice": false, "zero": false}}, "y": {"field": "v", "type": "quantitative", "scale": {"domain": [-0.1, 0.049], "nice": false, "zero": false}}}},
{"data": {"values": [{"t": "-0.018", "v": -0.018}]}, "mark": {"type": "tick", "orient": "horizontal", "thickness": 17, "size": 48, "color": "#0f62c4", "opacity": 1},
 "encoding": {"x": {"datum": 115.92, "type": "quantitative", "scale": {"domain": [-0.83, 112.9], "nice": false, "zero": false}}, "y": {"field": "v", "type": "quantitative", "scale": {"domain": [-0.1, 0.049], "nice": false, "zero": false}}}},
{"data": {"values": [{"t": "-0.018", "v": -0.018}]}, "mark": {"type": "text", "align": "left", "baseline": "middle", "fontSize": 13, "color": "white"},
 "encoding": {"x": {"datum": 113.43, "type": "quantitative", "scale": {"domain": [-0.83, 112.9], "nice": false, "zero": false}}, "y": {"field": "v", "type": "quantitative", "scale": {"domain": [-0.1, 0.049], "nice": false, "zero": false}}, "text": {"field": "t"}}}
]
},
{
"width": 927, "height": 78,
"layer": [
{"data": {"name": "d"}, "mark": {"type": "area", "color": "#d24a4a", "opacity": 0.75},
 "encoding": {
  "x": {"field": "i", "type": "quantitative", "scale": {"domain": [-0.83, 112.9], "nice": false, "zero": false}, "axis": {"values": [10,20,30,40,50,60,70,80,90,100,110], "labelExpr": "['05/07','19/07','05/08','21/08','05/09','30/09','14/10','29/10','12/11','26/11','10/12'][round(datum.value/10)-1]", "grid": true, "title": null, "labelPadding": 7, "labelFlush": false}},
  "y": {"field": "mom", "type": "quantitative", "scale": {"domain": [-0.34, 0.345], "nice": false, "zero": false}, "axis": {"orient": "right", "values": [0.3, 0, -0.3], "format": ".3f", "grid": true, "title": null, "labelPadding": 4}},
  "y2": {"datum": 0}}},
{"data": {"name": "d"}, "mark": {"type": "line", "color": "#c62020", "strokeWidth": 1.2},
 "encoding": {"x": {"field": "i", "type": "quantitative", "scale": {"domain": [-0.83, 112.9], "nice": false, "zero": false}}, "y": {"field": "mom", "type": "quantitative", "scale": {"domain": [-0.34, 0.345], "nice": false, "zero": false}}}},
{"data": {"values": [{"t": "MOM (12)"}]}, "mark": {"type": "text", "align": "left", "baseline": "middle", "fontSize": 12, "color": "#c82020"},
 "encoding": {"x": {"datum": -0.3, "type": "quantitative", "scale": {"domain": [-0.83, 112.9], "nice": false, "zero": false}}, "y": {"datum": 0.275, "type": "quantitative", "scale": {"domain": [-0.34, 0.345], "nice": false, "zero": false}}, "text": {"field": "t"}}},
{"data": {"values": [{"t": "-0.050", "v": -0.05}]}, "mark": {"type": "tick", "orient": "horizontal", "thickness": 17, "size": 48, "color": "#c30000", "opacity": 1, "yOffset": -5},
 "encoding": {"x": {"datum": 115.92, "type": "quantitative", "scale": {"domain": [-0.83, 112.9], "nice": false, "zero": false}}, "y": {"field": "v", "type": "quantitative", "scale": {"domain": [-0.34, 0.345], "nice": false, "zero": false}}}},
{"data": {"values": [{"t": "-0.050", "v": -0.05}]}, "mark": {"type": "text", "align": "left", "baseline": "middle", "fontSize": 13, "color": "white", "yOffset": -5},
 "encoding": {"x": {"datum": 113.43, "type": "quantitative", "scale": {"domain": [-0.83, 112.9], "nice": false, "zero": false}}, "y": {"field": "v", "type": "quantitative", "scale": {"domain": [-0.34, 0.345], "nice": false, "zero": false}}, "text": {"field": "t"}}}
]
}
]
}
